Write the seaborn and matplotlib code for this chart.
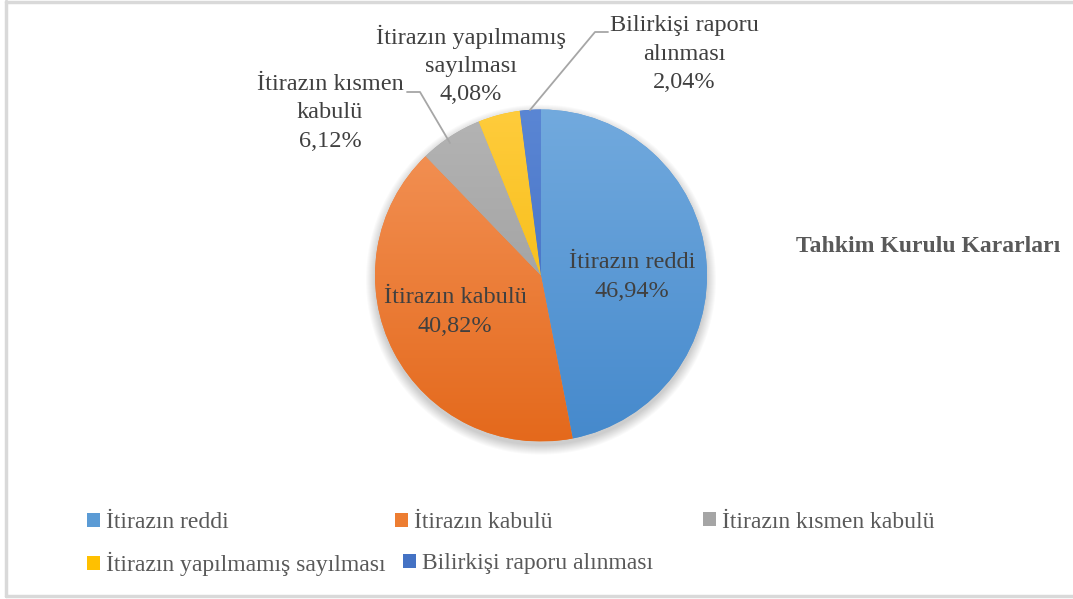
import numpy as np
import matplotlib.pyplot as plt
import seaborn as sns
from matplotlib.colors import LinearSegmentedColormap
from matplotlib.patches import Patch, Circle
from matplotlib.lines import Line2D

# chart data
labels = ["İtirazın reddi", "İtirazın kabulü", "İtirazın kısmen kabulü",
          "İtirazın yapılmamış sayılması", "Bilirkişi raporu alınması"]
slice_labels = ["İtirazın reddi", "İtirazın kabulü", "İtirazın kısmen\nkabulü",
                "İtirazın yapılmamış\nsayılması", "Bilirkişi raporu\nalınması"]
shares = [46.94, 40.82, 6.12, 4.08, 2.04]
title = "Tahkim Kurulu Kararları"

# light (top) -> dark (bottom) fills, Excel style
top_colors = ["#72aade", "#f4955a", "#b4b4b4", "#ffcc3c", "#5a86d4"]
bottom_colors = ["#4589cc", "#e4691c", "#969696", "#f0b400", "#3d68be"]
mid_colors = ["#5b9bd5", "#ed7d31", "#a5a5a5", "#ffc000", "#4472c4"]

sns.set_theme(style="white")
plt.rcParams['font.family'] = ['Liberation Serif', 'DejaVu Serif']

W, H = 1073, 599
fig = plt.figure(figsize=(W / 100, H / 100), dpi=100)
fig.patch.set_facecolor("white")

# pie axes: centre (541, 275.5) px, radius 166 px
cx, cy, r = 541, 275.5, 166
ax = fig.add_axes([(cx - r) / W, (H - cy - r) / H, 2 * r / W, 2 * r / H])

# soft shadow under the pie
for i in range(10):
    ax.add_patch(Circle((0, -0.025), 1 + i * 0.006, color="black", alpha=0.018,
                        zorder=0, lw=0, clip_on=False))

wedges, _ = ax.pie(shares, startangle=90, counterclock=False, radius=1,
                   colors=mid_colors, wedgeprops=dict(linewidth=0))

grad = np.linspace(0, 1, 256).reshape(-1, 1)
for w, c0, c1 in zip(wedges, top_colors, bottom_colors):
    cmap = LinearSegmentedColormap.from_list("g", [c0, c1])
    im = ax.imshow(grad, cmap=cmap, extent=(-1, 1, -1, 1), origin="upper",
                   aspect="auto", zorder=2)
    im.set_clip_path(w)

ax.set_xlim(-1, 1)
ax.set_ylim(-1, 1)
ax.axis("off")

# data labels (px positions -> data coords)
def d(px, py):
    return (px - cx) / r, (cy - py) / r

label_pos = [d(632, 277), d(455, 312), d(330, 113), d(471, 65), d(684, 54)]
for lab, val, (x, y) in zip(slice_labels, shares, label_pos):
    ax.text(x, y, f"{lab}\n{val:.2f}%".replace(".", ","), ha="center", va="center",
            fontsize=17.5, color="#404040", linespacing=1.45, zorder=5)

# leader lines
for pts in ([d(407, 92), d(420, 92), d(450, 143)],
            [d(608, 32), d(595, 32), d(530, 110)]):
    xs, ys = zip(*pts)
    ax.plot(xs, ys, color="#a6a6a6", lw=1.3, clip_on=False, zorder=4)

fig.text(928 / W, 1 - 246 / H, title, ha="center", va="center", fontsize=17,
         fontweight="bold", color="#595959")

# legend entries laid out like the Excel legend
leg_pos = [(87, 523), (395, 523), (703, 522), (87, 564), (403, 564)]
for lab, col, (px, py) in zip(labels, mid_colors, leg_pos):
    fig.legend(handles=[Patch(facecolor=col, edgecolor="none", label=lab)],
               loc="center left", bbox_to_anchor=(px / W, 1 - py / H),
               frameon=False, borderpad=0, borderaxespad=0, fontsize=17,
               handlelength=0.55, handleheight=0.55, handletextpad=0.25,
               labelcolor="#595959")

# chart border
bc = "#d9d9d9"
fig.add_artist(Line2D([6 / W, 6 / W], [1 - 1 / H, 1 - 596 / H], color=bc, lw=2.5))
fig.add_artist(Line2D([6 / W, 1], [1 - 1.5 / H, 1 - 1.5 / H], color=bc, lw=2.5))
fig.add_artist(Line2D([6 / W, 1], [1 - 596 / H, 1 - 596 / H], color=bc, lw=2.5))

fig.savefig("out.png", dpi=100)
